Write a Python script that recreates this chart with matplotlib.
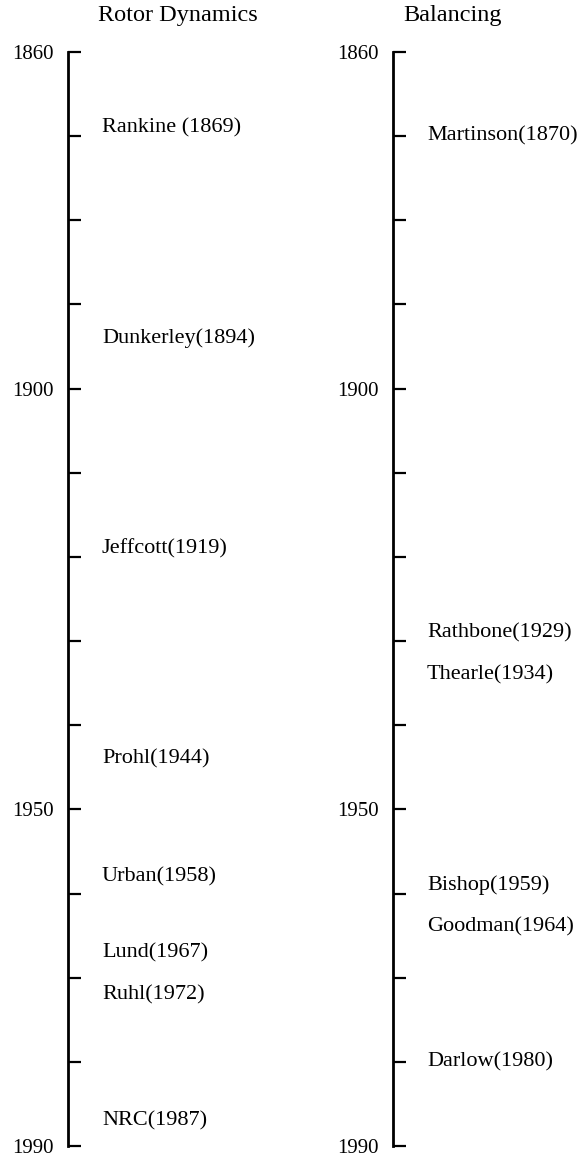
# Timelines: rotor dynamics and balancing milestones
import matplotlib.pyplot as plt
from matplotlib.ticker import MultipleLocator, FuncFormatter

# datos
rotor_names = ["Rankine ", "Dunkerley", "Jeffcott", "Prohl", "Urban", "Lund", "Ruhl", "NRC"]
rotor_years = [1869, 1894, 1919, 1944, 1958, 1967, 1972, 1987]

bal_names = ["Martinson", "Rathbone", "Thearle", "Bishop", "Goodman", "Darlow"]
bal_years = [1870, 1929, 1934, 1959, 1964, 1980]

year_start, year_end = 1860, 1990
labelled_years = [1860, 1900, 1950, 1990]

plt.rcParams['font.family'] = ['Liberation Serif', 'DejaVu Serif']

fig = plt.figure(figsize=(5.81, 11.59), dpi=100)
W, H = 581, 1159
top, bottom = 52, 1146
axw = 180


def timeline(x_spine, names, years, title, title_x, text_dx):
    ax = fig.add_axes([x_spine / W, 1 - bottom / H, axw / W, (bottom - top) / H])
    ax.set_xlim(0, axw)
    ax.set_ylim(year_end, year_start)
    for s in ['top', 'right', 'bottom']:
        ax.spines[s].set_visible(False)
    ax.spines['left'].set_linewidth(2.0)
    ax.set_xticks([])
    ax.yaxis.set_major_locator(MultipleLocator(10))
    ax.yaxis.set_major_formatter(
        FuncFormatter(lambda v, p: f"{int(round(v))}" if int(round(v)) in labelled_years else ""))
    ax.tick_params(axis='y', direction='in', length=9, width=1.6, pad=10, labelsize=15)
    ax.patch.set_visible(False)
    for n, y in zip(names, years):
        ax.text(text_dx, y, f"{n}({y})", fontsize=16, va='center', ha='left')
    fig.text(title_x / W, 1 - 15 / H, title, fontsize=17.5, ha='center', va='center')
    return ax


timeline(68, rotor_names, rotor_years, "Rotor Dynamics", 178, 34)
timeline(393, bal_names, bal_years, "Balancing", 453, 34)

plt.savefig("out.png", dpi=100)
